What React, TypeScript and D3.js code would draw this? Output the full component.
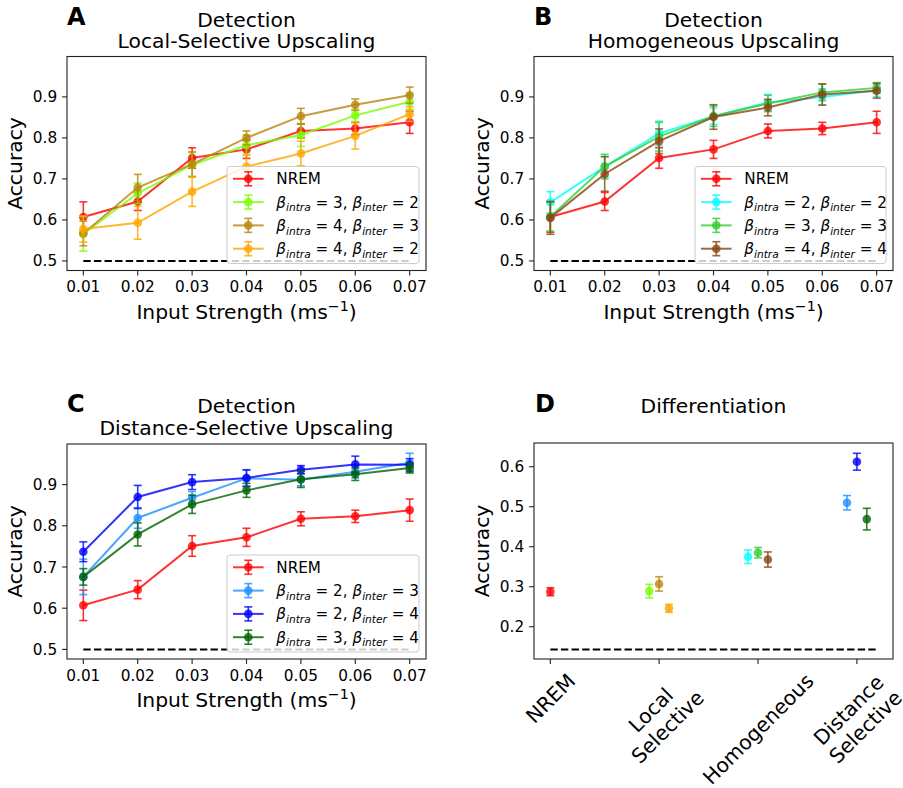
import React, { useEffect, useRef } from "react";
import * as d3 from "d3";

// ---------------- DATA ----------------
const inputStrength = [0.01, 0.02, 0.03, 0.04, 0.05, 0.06, 0.07];
const detectionTicks = [0.5, 0.6, 0.7, 0.8, 0.9];
const detectionChance = 0.5;

const nremMean = [0.607, 0.645, 0.751, 0.772, 0.817, 0.823, 0.838];
const nremErr = [0.037, 0.022, 0.025, 0.022, 0.017, 0.015, 0.027];

// A: Local-selective upscaling
const localB32Mean = [0.566, 0.665, 0.734, 0.782, 0.807, 0.855, 0.888];
const localB32Err = [0.042, 0.025, 0.03, 0.025, 0.028, 0.015, 0.018];
const localB43Mean = [0.567, 0.679, 0.736, 0.8, 0.853, 0.881, 0.904];
const localB43Err = [0.03, 0.032, 0.03, 0.017, 0.019, 0.014, 0.02];
const localB42Mean = [0.578, 0.593, 0.669, 0.73, 0.762, 0.805, 0.858];
const localB42Err = [0.032, 0.04, 0.036, 0.03, 0.03, 0.032, 0.018];

// B: Homogeneous upscaling
const homoB22Mean = [0.643, 0.73, 0.811, 0.853, 0.886, 0.9, 0.916];
const homoB22Err = [0.026, 0.025, 0.03, 0.02, 0.02, 0.02, 0.015];
const homoB33Mean = [0.608, 0.73, 0.803, 0.853, 0.884, 0.911, 0.922];
const homoB33Err = [0.035, 0.03, 0.035, 0.025, 0.02, 0.02, 0.013];
const homoB44Mean = [0.605, 0.712, 0.792, 0.851, 0.874, 0.906, 0.915];
const homoB44Err = [0.04, 0.042, 0.03, 0.03, 0.02, 0.026, 0.018];

// C: Distance-selective upscaling
const distB23Mean = [0.676, 0.819, 0.868, 0.915, 0.912, 0.931, 0.953];
const distB23Err = [0.043, 0.025, 0.015, 0.02, 0.015, 0.015, 0.023];
const distB24Mean = [0.737, 0.87, 0.906, 0.916, 0.936, 0.949, 0.948];
const distB24Err = [0.024, 0.028, 0.018, 0.02, 0.01, 0.02, 0.015];
const distB34Mean = [0.676, 0.779, 0.852, 0.886, 0.913, 0.925, 0.94];
const distB34Err = [0.02, 0.028, 0.022, 0.017, 0.02, 0.015, 0.012];

// D: Differentiation
const diffCategories = ["NREM", "Local\nSelective", "Homogeneous", "Distance\nSelective"];
const diffMeans = [[0.2875], [0.289, 0.307, 0.246], [0.375, 0.385, 0.368], [0.51, 0.6125, 0.469]];
const diffErrs = [[0.01], [0.017, 0.018, 0.01], [0.017, 0.013, 0.019], [0.018, 0.021, 0.027]];
const diffColors = [
  ["red"],
  ["lawngreen", "darkgoldenrod", "orange"],
  ["cyan", "limegreen", "saddlebrown"],
  ["dodgerblue", "blue", "darkgreen"],
];
const diffTicks = [0.2, 0.3, 0.4, 0.5, 0.6];
const diffChance = 1 / 7;

type Series = { label: [number, number] | null; mean: number[]; err: number[]; color: string };

const panelA: Series[] = [
  { label: null, mean: nremMean, err: nremErr, color: "red" },
  { label: [3, 2], mean: localB32Mean, err: localB32Err, color: "lawngreen" },
  { label: [4, 3], mean: localB43Mean, err: localB43Err, color: "darkgoldenrod" },
  { label: [4, 2], mean: localB42Mean, err: localB42Err, color: "orange" },
];
const panelB: Series[] = [
  { label: null, mean: nremMean, err: nremErr, color: "red" },
  { label: [2, 2], mean: homoB22Mean, err: homoB22Err, color: "cyan" },
  { label: [3, 3], mean: homoB33Mean, err: homoB33Err, color: "limegreen" },
  { label: [4, 4], mean: homoB44Mean, err: homoB44Err, color: "saddlebrown" },
];
const panelC: Series[] = [
  { label: null, mean: nremMean, err: nremErr, color: "red" },
  { label: [2, 3], mean: distB23Mean, err: distB23Err, color: "dodgerblue" },
  { label: [2, 4], mean: distB24Mean, err: distB24Err, color: "blue" },
  { label: [3, 4], mean: distB34Mean, err: distB34Err, color: "darkgreen" },
];

// ---------------- STYLE ----------------
const FONT = "DejaVu Sans, Verdana, sans-serif";
const TICK_FS = 15.3;
const LABEL_FS = 20.3;
const LEGEND_FS = 15.2;
const ALPHA = 0.8;
const MR = 4.3;
const CAP = 4;
const TICK_LEN = 4.9;

type Sel = d3.Selection<SVGGElement, unknown, null, undefined>;

function drawFrame(g: Sel, left: number, right: number, top: number, bottom: number) {
  g.append("rect")
    .attr("x", left)
    .attr("y", top)
    .attr("width", right - left)
    .attr("height", bottom - top)
    .attr("fill", "none")
    .attr("stroke", "#222")
    .attr("stroke-width", 1.1);
}

function drawYAxis(g: Sel, y: d3.ScaleLinear<number, number>, ticks: number[], left: number, top: number, bottom: number) {
  ticks.forEach((t) => {
    g.append("line")
      .attr("x1", left - TICK_LEN)
      .attr("x2", left)
      .attr("y1", y(t))
      .attr("y2", y(t))
      .attr("stroke", "#222")
      .attr("stroke-width", 1.1);
    g.append("text")
      .attr("x", left - TICK_LEN - 4.9)
      .attr("y", y(t))
      .attr("dy", "0.36em")
      .attr("text-anchor", "end")
      .attr("font-size", TICK_FS)
      .attr("font-family", FONT)
      .text(d3.format(".1f")(t));
  });
  const cy = (top + bottom) / 2;
  g.append("text")
    .attr("transform", `translate(${left - 45},${cy}) rotate(-90)`)
    .attr("text-anchor", "middle")
    .attr("font-size", LABEL_FS)
    .attr("font-family", FONT)
    .text("Accuracy");
}

function drawTitle(g: Sel, lines: string[], cx: number, baselines: number[], letter: string, lx: number, lb: number) {
  lines.forEach((l, i) => {
    g.append("text")
      .attr("x", cx)
      .attr("y", baselines[i])
      .attr("text-anchor", "middle")
      .attr("font-size", LABEL_FS)
      .attr("font-family", FONT)
      .text(l);
  });
  g.append("text")
    .attr("x", lx)
    .attr("y", lb)
    .attr("font-size", 24)
    .attr("font-weight", "bold")
    .attr("font-family", FONT)
    .text(letter);
}

function errPoint(g: Sel, cx: number, cy: number, y0: number, y1: number, color: string) {
  g.append("line")
    .attr("x1", cx).attr("x2", cx).attr("y1", y0).attr("y2", y1)
    .attr("stroke", color).attr("stroke-opacity", ALPHA).attr("stroke-width", 1.6);
  [y0, y1].forEach((yy) => {
    g.append("line")
      .attr("x1", cx - CAP).attr("x2", cx + CAP).attr("y1", yy).attr("y2", yy)
      .attr("stroke", color).attr("stroke-opacity", ALPHA).attr("stroke-width", 1.6);
  });
  g.append("circle").attr("cx", cx).attr("cy", cy).attr("r", MR).attr("fill", color).attr("fill-opacity", ALPHA);
}

function legendLabel(t: d3.Selection<SVGTextElement, unknown, null, undefined>, s: Series) {
  if (!s.label) {
    t.append("tspan").text("NREM");
    return;
  }
  const [a, b] = s.label;
  t.append("tspan").attr("font-style", "italic").text("β");
  t.append("tspan").attr("font-style", "italic").attr("font-size", LEGEND_FS * 0.7).attr("dy", 3.8).text("intra");
  t.append("tspan").attr("dy", -3.8).text(` = ${a}, `);
  t.append("tspan").attr("font-style", "italic").text("β");
  t.append("tspan").attr("font-style", "italic").attr("font-size", LEGEND_FS * 0.7).attr("dy", 3.8).text("inter");
  t.append("tspan").attr("dy", -3.8).text(` = ${b}`);
}

function drawLinePanel(
  svg: Sel,
  series: Series[],
  left: number,
  right: number,
  top: number,
  bottom: number,
  titleLines: string[],
  titleBaselines: number[],
  letter: string,
  letterBaseline: number,
  legendW: number
) {
  const g = svg.append("g");
  const x = d3.scaleLinear().domain([0.007, 0.073]).range([left, right]);
  const y = d3.scaleLinear().domain([0.4767, 0.9985]).range([bottom, top]);

  // chance line
  g.append("line")
    .attr("x1", x(inputStrength[0]))
    .attr("x2", x(inputStrength[inputStrength.length - 1]))
    .attr("y1", y(detectionChance))
    .attr("y2", y(detectionChance))
    .attr("stroke", "#000")
    .attr("stroke-width", 2)
    .attr("stroke-dasharray", "7.4,3.2");

  series.forEach((s) => {
    const line = d3
      .line<number>()
      .x((_, i) => x(inputStrength[i]))
      .y((d) => y(d));
    g.append("path")
      .attr("d", line(s.mean) as string)
      .attr("fill", "none")
      .attr("stroke", s.color)
      .attr("stroke-opacity", ALPHA)
      .attr("stroke-width", 2);
    s.mean.forEach((m, i) => {
      errPoint(g, x(inputStrength[i]), y(m), y(m - s.err[i]), y(m + s.err[i]), s.color);
    });
  });

  drawFrame(g, left, right, top, bottom);

  // x ticks
  inputStrength.forEach((t) => {
    g.append("line")
      .attr("x1", x(t)).attr("x2", x(t)).attr("y1", bottom).attr("y2", bottom + TICK_LEN)
      .attr("stroke", "#222").attr("stroke-width", 1.1);
    g.append("text")
      .attr("x", x(t))
      .attr("y", bottom + 21.5)
      .attr("text-anchor", "middle")
      .attr("font-size", TICK_FS)
      .attr("font-family", FONT)
      .text(d3.format(".2f")(t));
  });
  const xl = g
    .append("text")
    .attr("x", (left + right) / 2)
    .attr("y", bottom + 48)
    .attr("text-anchor", "middle")
    .attr("font-size", LABEL_FS)
    .attr("font-family", FONT);
  xl.append("tspan").text("Input Strength (ms");
  xl.append("tspan").attr("font-size", LABEL_FS * 0.7).attr("dy", -8).text("−1");
  xl.append("tspan").attr("dy", 8).text(")");

  drawYAxis(g, y, detectionTicks, left, top, bottom);
  drawTitle(g, titleLines, (left + right) / 2, titleBaselines, letter, left, letterBaseline);

  // legend (lower right)
  const lh = 97;
  const lx = right - 7 - legendW;
  const ly = bottom - 7 - lh;
  g.append("rect")
    .attr("x", lx)
    .attr("y", ly)
    .attr("width", legendW)
    .attr("height", lh)
    .attr("rx", 3)
    .attr("fill", "#fff")
    .attr("fill-opacity", 0.8)
    .attr("stroke", "#ccc")
    .attr("stroke-width", 1);
  series.forEach((s, i) => {
    const ey = ly + 12.3 + i * 23.3;
    g.append("line")
      .attr("x1", lx + 6).attr("x2", lx + 36.6).attr("y1", ey).attr("y2", ey)
      .attr("stroke", s.color).attr("stroke-opacity", ALPHA).attr("stroke-width", 2);
    errPoint(g, lx + 21.3, ey, ey - 7, ey + 7, s.color);
    const t = g
      .append("text")
      .attr("x", lx + 49.3)
      .attr("y", ey)
      .attr("dy", "0.36em")
      .attr("font-size", LEGEND_FS)
      .attr("font-family", FONT);
    legendLabel(t, s);
  });
}

function drawDiffPanel(svg: Sel) {
  const left = 534, right = 893, top = 443, bottom = 659;
  const g = svg.append("g");
  const x = d3.scaleLinear().domain([-0.165, 3.465]).range([left, right]);
  const y = d3.scaleLinear().domain([0.1193, 0.6593]).range([bottom, top]);

  const groupCenter = (i: number) => (i === 0 ? 0 : i + 0.1);
  const groupPos = (i: number, j: number) => (i === 0 ? 0 : i + 0.1 * j);

  g.append("line")
    .attr("x1", x(0))
    .attr("x2", x(3.3))
    .attr("y1", y(diffChance))
    .attr("y2", y(diffChance))
    .attr("stroke", "#000")
    .attr("stroke-width", 2)
    .attr("stroke-dasharray", "7.4,3.2");

  diffMeans.forEach((ms, i) => {
    ms.forEach((m, j) => {
      const e = diffErrs[i][j];
      errPoint(g, x(groupPos(i, j)), y(m), y(m - e), y(m + e), diffColors[i][j]);
    });
  });

  drawFrame(g, left, right, top, bottom);
  drawYAxis(g, y, diffTicks, left, top, bottom);
  drawTitle(g, ["Differentiation"], (left + right) / 2, [413.3], "D", left + 1, 411.7);

  const fs = 20.3;
  const lhgt = fs * 1.17;
  diffCategories.forEach((c, i) => {
    const cx = x(groupCenter(i));
    g.append("line")
      .attr("x1", cx).attr("x2", cx).attr("y1", bottom).attr("y2", bottom + TICK_LEN)
      .attr("stroke", "#222").attr("stroke-width", 1.1);
    const lines = c.split("\n");
    const lg = g.append("g");
    const t = lg
      .append("text")
      .attr("text-anchor", "middle")
      .attr("font-size", fs)
      .attr("font-family", FONT);
    lines.forEach((l, k) => {
      t.append("tspan")
        .attr("x", 0)
        .attr("y", (k - (lines.length - 1) / 2) * lhgt)
        .attr("dy", "0.36em")
        .text(l);
    });
    let w = 0;
    t.selectAll<SVGTSpanElement, unknown>("tspan").each(function () {
      w = Math.max(w, this.getComputedTextLength());
    });
    const h = lines.length * lhgt;
    const half = (w + h) / (2 * Math.SQRT2);
    lg.attr("transform", `translate(${cx},${bottom + TICK_LEN + 4.9 + half}) rotate(-45)`);
  });
}

export default function App() {
  const ref = useRef<SVGSVGElement | null>(null);
  useEffect(() => {
    if (!ref.current) return;
    const root = d3.select(ref.current);
    root.selectAll("*").remove();
    const svg = root.append("g") as unknown as Sel;
    drawLinePanel(svg, panelA, 67, 426, 56.5, 270.5,
      ["Detection", "Local-Selective Upscaling"], [26.7, 48], "A", 24.5, 192);
    drawLinePanel(svg, panelB, 534, 893, 56.5, 270.5,
      ["Detection", "Homogeneous Upscaling"], [26.7, 48], "B", 24.5, 191);
    drawLinePanel(svg, panelC, 67, 426, 444, 659,
      ["Detection", "Distance-Selective Upscaling"], [413.3, 434.6], "C", 411.7, 192);
    drawDiffPanel(svg);
  }, []);
  return (
    <svg
      ref={ref}
      width={903}
      height={788}
      style={{ position: "absolute", left: 0, top: 0, background: "#fff" }}
    />
  );
}
